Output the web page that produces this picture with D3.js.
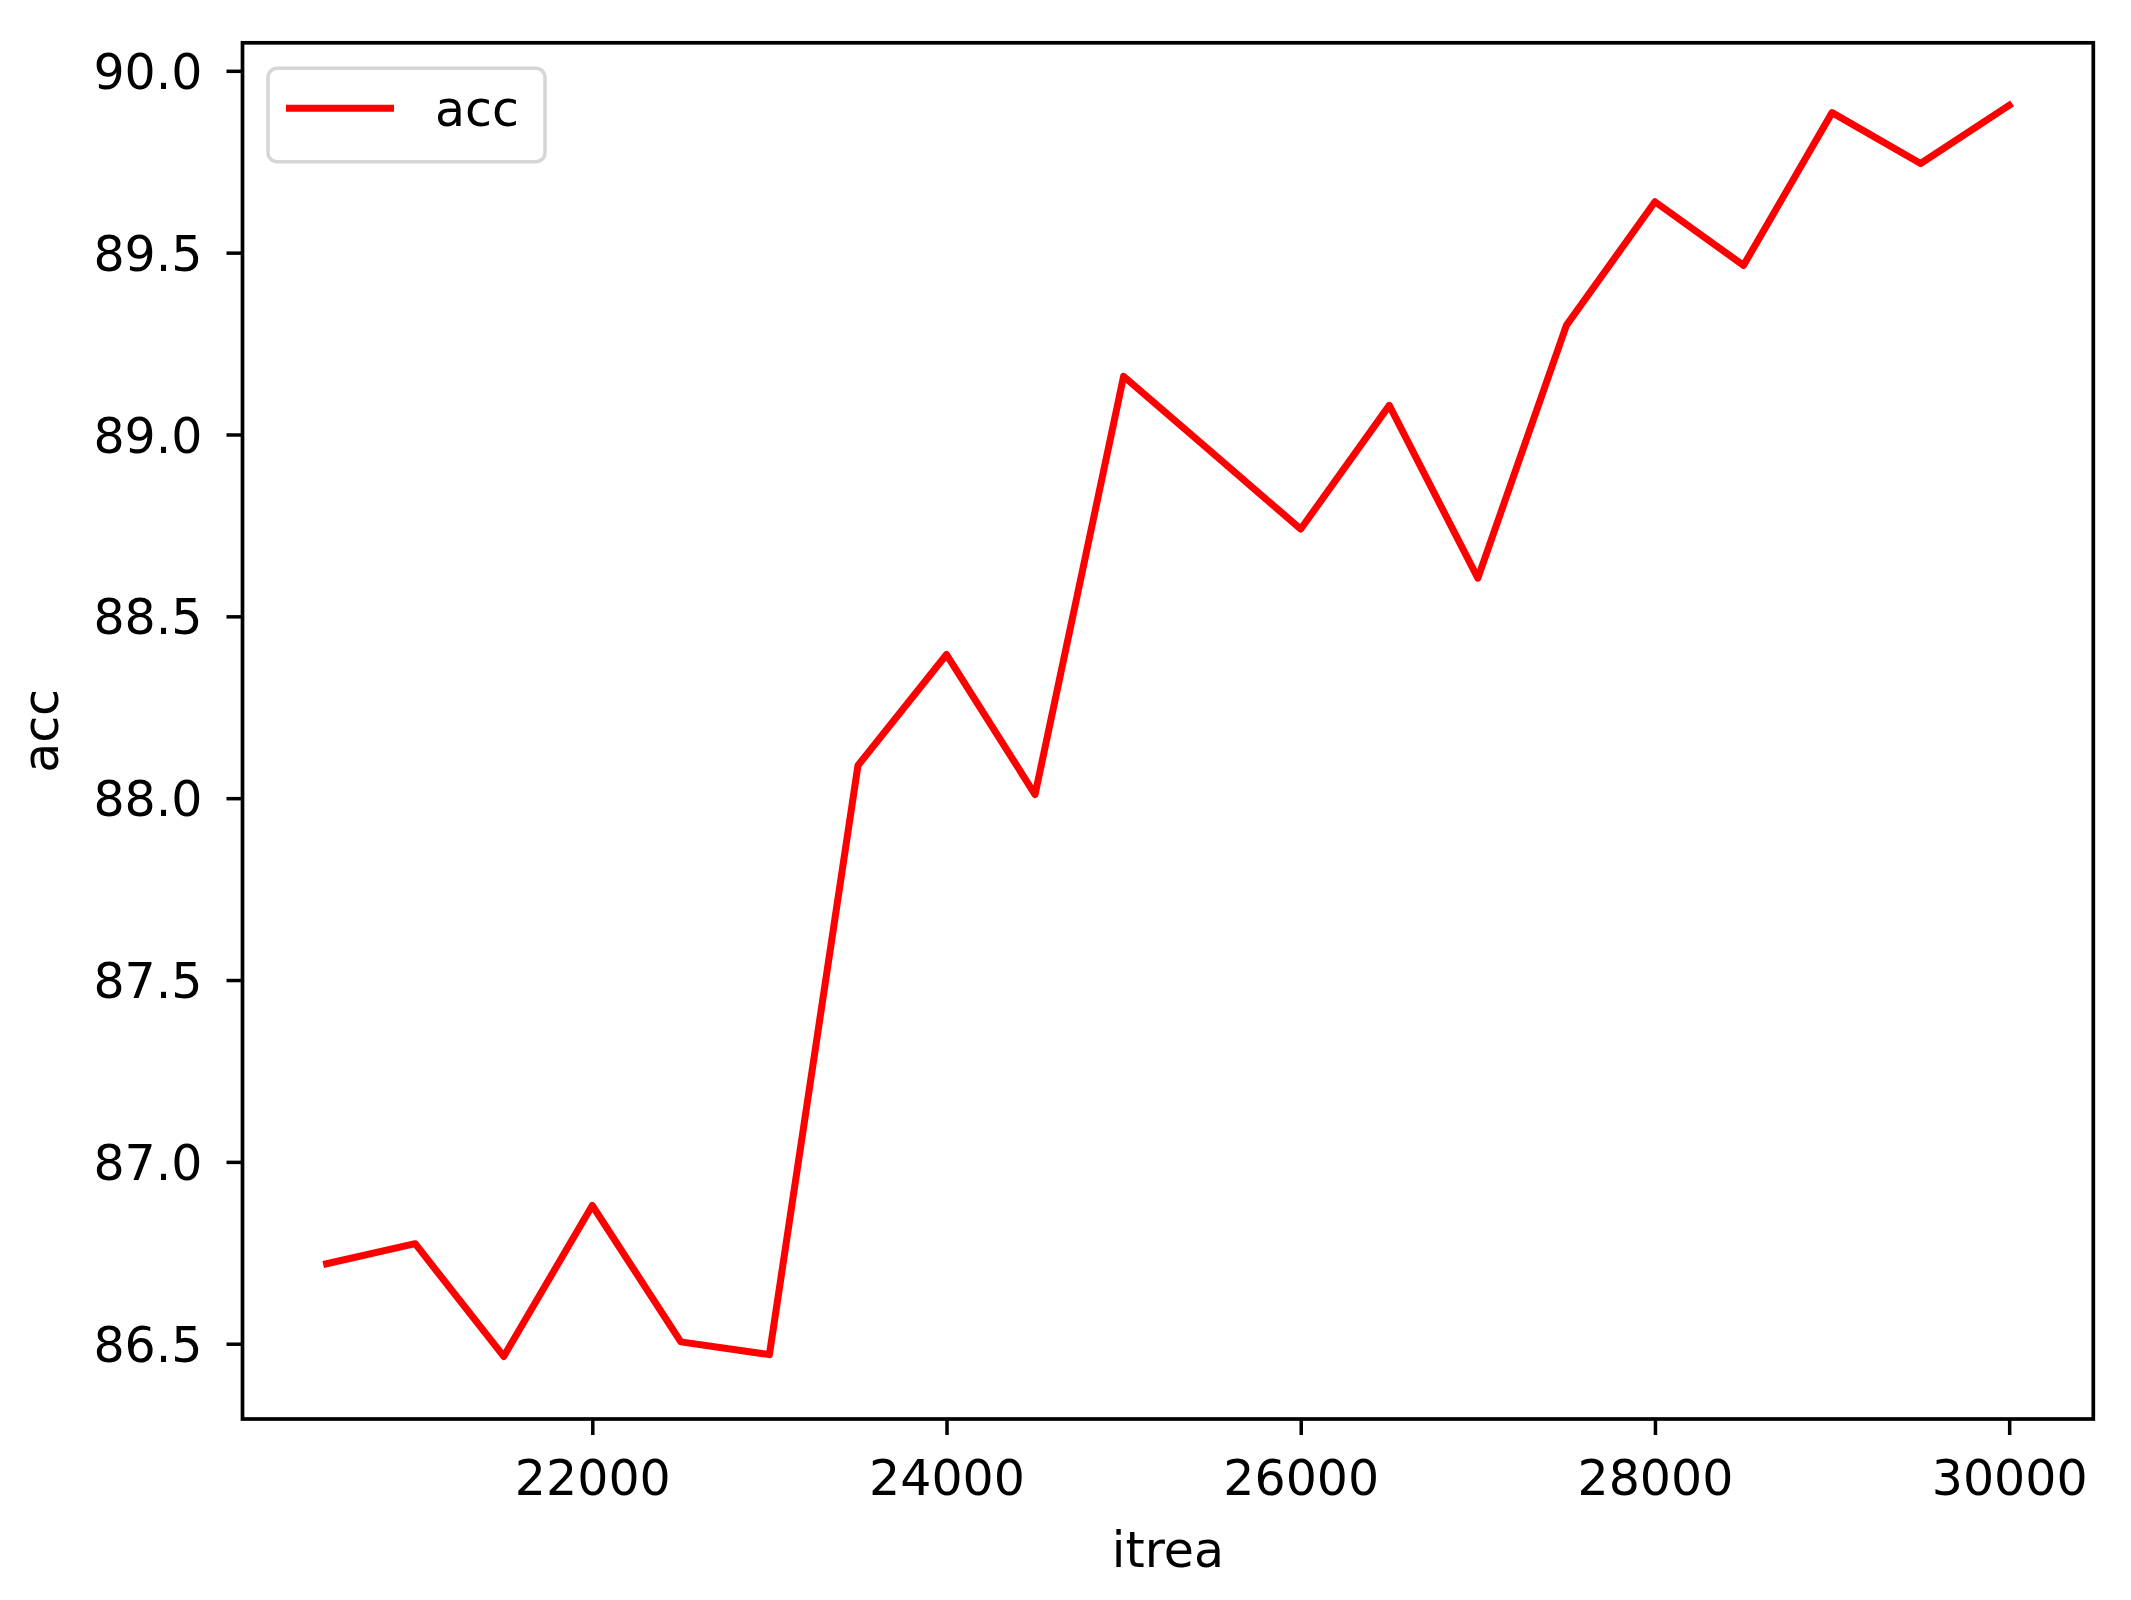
<!DOCTYPE html>
<html>
<head>
<meta charset="utf-8">
<script src="https://cdn.jsdelivr.net/npm/d3@7"></script>
<style>
  html, body { margin: 0; padding: 0; background: #ffffff; }
  svg { display: block; }
  text { font-family: "DejaVu Sans", sans-serif; fill: #000; }
</style>
</head>
<body>
<script>
// ---- data ----
const iterations = [20500, 21000, 21500, 22000, 22500, 23000, 23500, 24000, 24500, 25000,
                    25500, 26000, 26500, 27000, 27500, 28000, 28500, 29000, 29500, 30000];
const accValues  = [86.72, 86.775, 86.465, 86.88, 86.505, 86.47, 88.09, 88.395, 88.01, 89.16,
                    88.95, 88.74, 89.08, 88.605, 89.30, 89.64, 89.465, 89.885, 89.745, 89.905];
const xTicks = [22000, 24000, 26000, 28000, 30000];
const yTicks = [86.5, 87.0, 87.5, 88.0, 88.5, 89.0, 89.5, 90.0];
const seriesName = "acc";
const xLabel = "itrea";
const yLabel = "acc";

// ---- layout ----
const W = 2131, H = 1600;
const plot = { left: 242.5, right: 2093.3, top: 42.8, bottom: 1419 };
const fontSize = 49;

const svg = d3.select("body").append("svg").attr("width", W).attr("height", H);

const xExt = d3.extent(iterations), yExt = d3.extent(accValues);
const xPad = (xExt[1] - xExt[0]) * 0.05, yPad = (yExt[1] - yExt[0]) * 0.05;
const x = d3.scaleLinear().domain([xExt[0] - xPad, xExt[1] + xPad]).range([plot.left, plot.right]);
const y = d3.scaleLinear().domain([yExt[0] - yPad, yExt[1] + yPad]).range([plot.bottom, plot.top]);

const data = iterations.map((it, i) => ({ it, v: accValues[i] }));

// clip
svg.append("defs").append("clipPath").attr("id", "clip")
  .append("rect").attr("x", plot.left).attr("y", plot.top)
  .attr("width", plot.right - plot.left).attr("height", plot.bottom - plot.top);

// line
svg.append("path")
  .datum(data)
  .attr("clip-path", "url(#clip)")
  .attr("fill", "none")
  .attr("stroke", "#ff0000")
  .attr("stroke-width", 7)
  .attr("stroke-linejoin", "round")
  .attr("stroke-linecap", "square")
  .attr("d", d3.line().x(d => x(d.it)).y(d => y(d.v)));

// axes
const xAxis = d3.axisBottom(x).tickValues(xTicks).tickFormat(d3.format("d"))
  .tickSizeInner(16).tickSizeOuter(0).tickPadding(25);
const yAxis = d3.axisLeft(y).tickValues(yTicks).tickFormat(d3.format(".1f"))
  .tickSizeInner(16).tickSizeOuter(0).tickPadding(24);

const gx = svg.append("g").attr("transform", `translate(0,${plot.bottom})`).call(xAxis);
const gy = svg.append("g").attr("transform", `translate(${plot.left},0)`).call(yAxis);
[gx, gy].forEach(g => {
  g.select(".domain").remove();
  g.selectAll(".tick line").attr("stroke", "#000").attr("stroke-width", 3.5);
  g.selectAll(".tick text").attr("font-size", fontSize).attr("font-family", "DejaVu Sans").attr("fill", "#000");
});
gy.selectAll(".tick text").attr("dy", "0.36em");

// frame
svg.append("rect")
  .attr("x", plot.left).attr("y", plot.top)
  .attr("width", plot.right - plot.left).attr("height", plot.bottom - plot.top)
  .attr("fill", "none").attr("stroke", "#000").attr("stroke-width", 3.7);

// axis labels
svg.append("text")
  .attr("x", (plot.left + plot.right) / 2).attr("y", 1567)
  .attr("text-anchor", "middle").attr("font-size", fontSize)
  .text(xLabel);
svg.append("text")
  .attr("transform", `translate(58,${(plot.top + plot.bottom) / 2}) rotate(-90)`)
  .attr("text-anchor", "middle").attr("font-size", fontSize)
  .text(yLabel);

// legend
const lg = svg.append("g");
lg.append("rect")
  .attr("x", 268).attr("y", 68.3).attr("width", 277).attr("height", 93.4)
  .attr("rx", 9).attr("ry", 9)
  .attr("fill", "#ffffff").attr("fill-opacity", 0.8)
  .attr("stroke", "#d6d6d6").attr("stroke-width", 3.5);
lg.append("line")
  .attr("x1", 286).attr("x2", 394).attr("y1", 108.3).attr("y2", 108.3)
  .attr("stroke", "#ff0000").attr("stroke-width", 7).attr("stroke-linecap", "butt");
lg.append("text")
  .attr("x", 435).attr("y", 126).attr("font-size", fontSize)
  .text(seriesName);
</script>
</body>
</html>
